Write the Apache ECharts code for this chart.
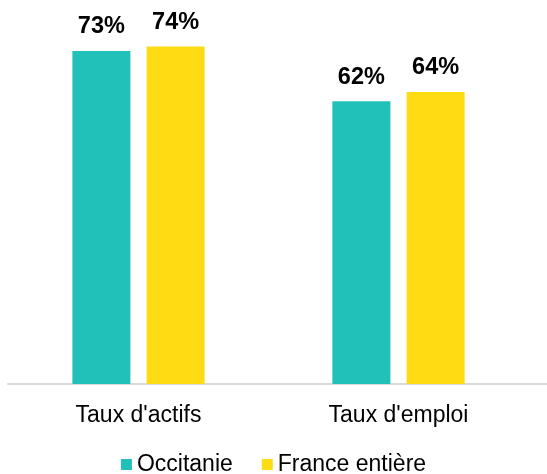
<!DOCTYPE html>
<html>
<head>
<meta charset="utf-8">
<script src="https://cdn.jsdelivr.net/npm/echarts@6/dist/echarts.min.js"></script>
<style>
  html, body { margin: 0; padding: 0; background: #fff; }
  #chart { width: 547px; height: 474px; }
</style>
</head>
<body>
<div id="chart"></div>
<script>
const categories = ['Taux d\'actifs', 'Taux d\'emploi']
const seriesNames = ['Occitanie', 'France entière']
const occitanie = [73, 62]
const france = [74, 64]
const colors = ['#21c1b9', '#ffdb14']

const font = '"Liberation Sans", Arial, sans-serif'

const labelStyle = {
  show: true,
  position: 'top',
  distance: 12,
  formatter: '{c}%',
  fontFamily: font,
  fontSize: 23.5,
  fontWeight: 'bold',
  color: '#000'
}

const chart = echarts.init(document.getElementById('chart'))
chart.setOption({
  backgroundColor: '#fff',
  animation: false,
  legend: {
    bottom: -7,
    left: 'center',
    icon: 'rect',
    itemWidth: 11,
    itemHeight: 11,
    itemGap: 29,
    textStyle: { fontFamily: font, fontSize: 23, color: '#000' },
    data: seriesNames
  },
  grid: [
    { left: 8.5, right: 18.5, top: 19, bottom: 90 },
    { left: 8, right: 0, top: 19, bottom: 90 }
  ],
  xAxis: [{
    type: 'category',
    gridIndex: 0,
    data: categories,
    axisLine: { show: false },
    axisTick: { show: false },
    axisLabel: { margin: 20, fontFamily: font, fontSize: 23, color: '#000' }
  }, {
    type: 'category',
    gridIndex: 1,
    data: categories,
    axisLine: { show: true, lineStyle: { color: '#d9d9d9', width: 2 } },
    axisTick: { show: false },
    axisLabel: { show: false }
  }],
  yAxis: [{
    type: 'value',
    gridIndex: 0,
    min: 0,
    max: 80,
    show: false
  }, {
    type: 'value',
    gridIndex: 1,
    min: 0,
    max: 80,
    show: false
  }],
  series: [{
    name: seriesNames[0],
    type: 'bar',
    xAxisIndex: 0,
    yAxisIndex: 0,
    barWidth: 58,
    barGap: '28%',
    itemStyle: { color: colors[0] },
    label: labelStyle,
    data: occitanie
  }, {
    name: seriesNames[1],
    type: 'bar',
    xAxisIndex: 0,
    yAxisIndex: 0,
    barWidth: 58,
    barGap: '28%',
    itemStyle: { color: colors[1] },
    label: labelStyle,
    data: france
  }]
})
</script>
</body>
</html>
